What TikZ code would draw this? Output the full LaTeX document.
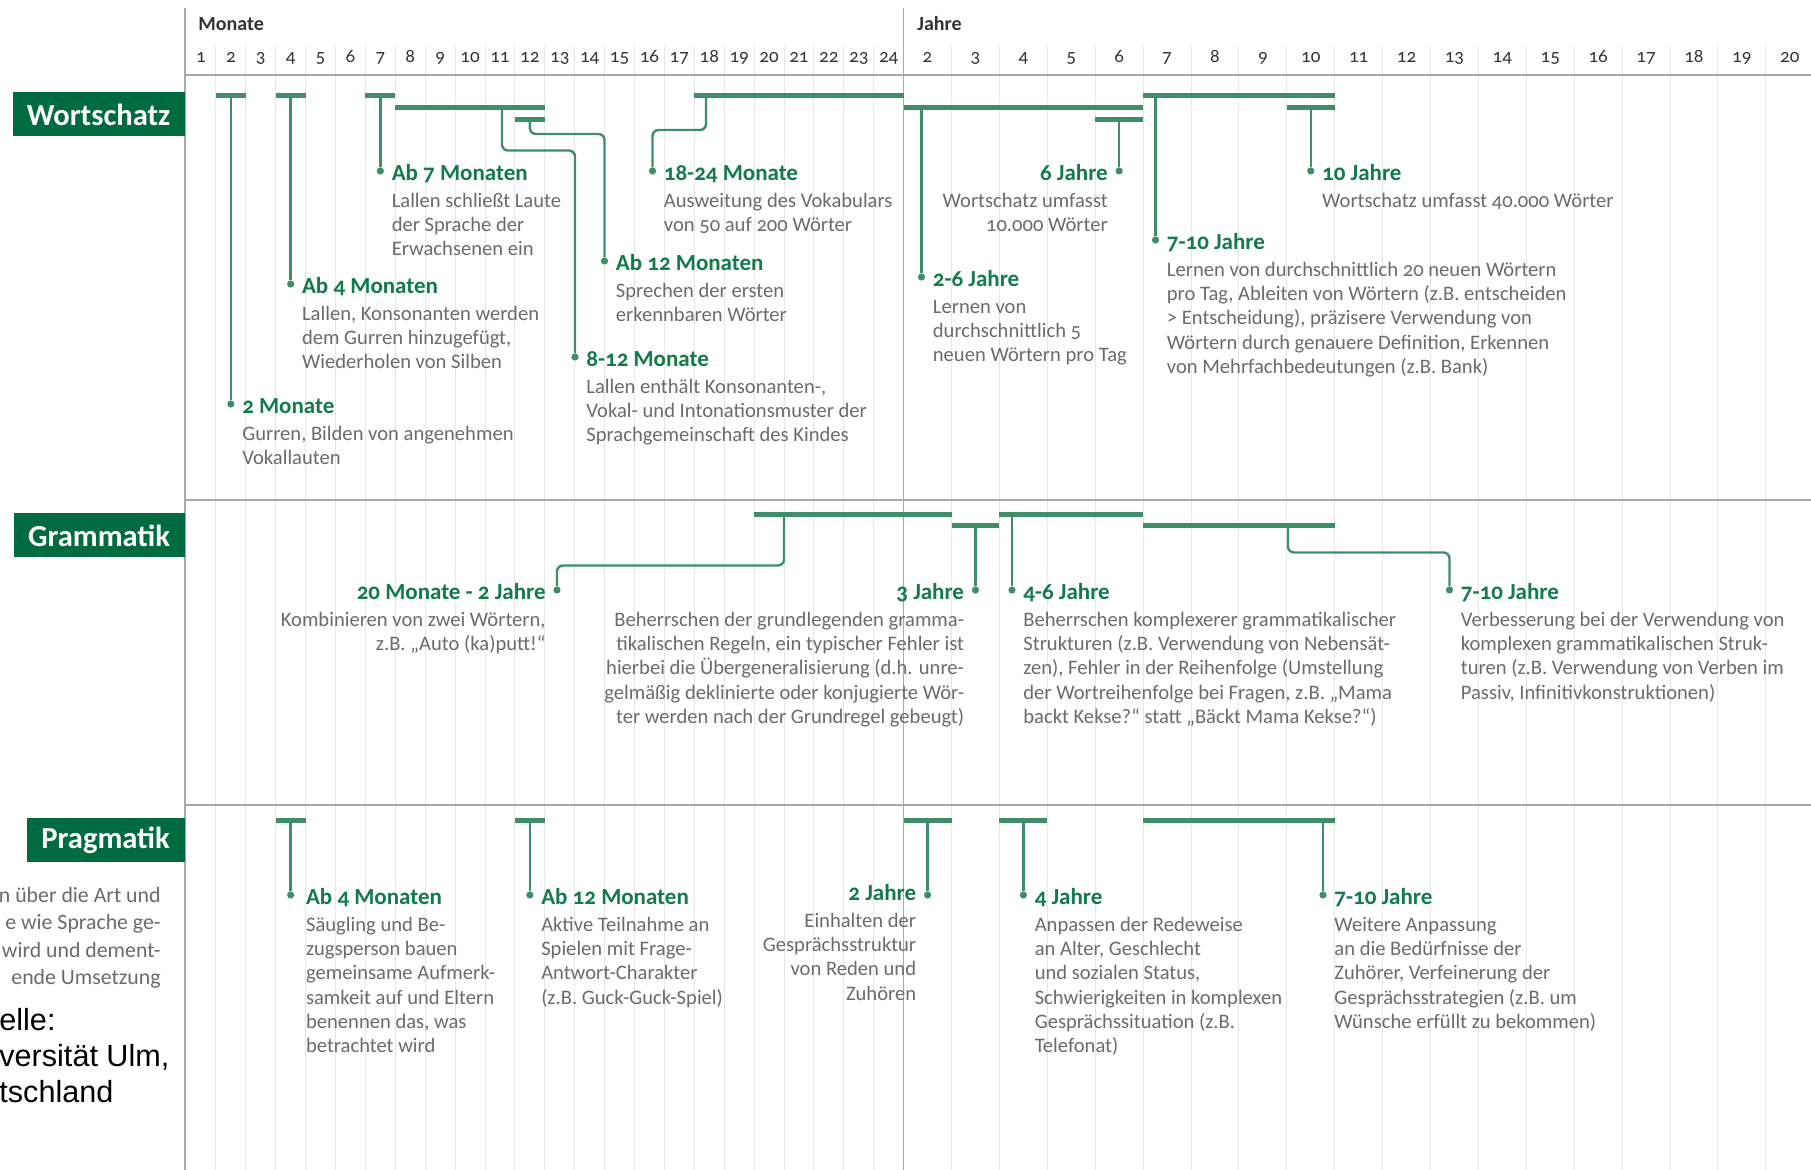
\documentclass[tikz,border=0pt]{standalone}
\usepackage{fontspec}
\setmainfont{Carlito}[Numbers=OldStyle]
\newfontfamily\quellefont{Liberation Sans}
\usepackage{tikz}
\usetikzlibrary{positioning}
\definecolor{boxgreen}{HTML}{006B3F}
\definecolor{titlegreen}{HTML}{127A4B}
\definecolor{linegreen}{HTML}{3F8E69}
\definecolor{bodygray}{HTML}{6B6B6B}
\definecolor{gridgray}{HTML}{E6E6E6}
\definecolor{rulegray}{HTML}{A9A9A9}
\definecolor{numgray}{HTML}{333333}

% column edges: months 0..24, years 1..20
\newcommand{\mpos}[1]{186+29.9*(#1)}
\newcommand{\ypos}[1]{903.6+47.9*(#1-1)}

\tikzset{
  catbox/.style={fill=boxgreen, text=white, anchor=north east,
    font=\fontsize{15.3}{17}\selectfont\bfseries, minimum height=22pt},
  phasebar/.style={linegreen, line width=2.5pt},
  stemline/.style={linegreen, line width=1.2pt, rounded corners=3pt},
  evtdot/.style={circle, fill=linegreen, inner sep=0pt, minimum size=3.6pt},
  evttitle/.style={text=titlegreen, font=\fontsize{11.5}{13}\selectfont\bfseries,
    inner sep=0pt, text height=11.4pt, text depth=2pt},
  evtbody/.style={text=bodygray, font=\fontsize{10.3}{12.15}\selectfont,
    inner sep=0pt, align=left},
  evtbodyr/.style={evtbody, align=right},
  gridline/.style={gridgray, line width=0.5pt},
  ruleline/.style={rulegray, line width=0.8pt},
  numlabel/.style={text=numgray, font=\fontsize{9.5}{11}\selectfont,
    anchor=base, inner sep=0pt},
  headlabel/.style={text=numgray, font=\fontsize{10}{12}\selectfont\bfseries,
    anchor=base west, inner sep=0pt}
}

\begin{document}
\begin{tikzpicture}[x=0.5pt, y=-0.5pt]
  \useasboundingbox (0,0) rectangle (1811,1170);
  \fill[white] (0,0) rectangle (1811,1170);

  % grid and scale
  \foreach \m in {1,...,23}
    \draw[gridline] ({\mpos{\m}},45) -- ({\mpos{\m}},1170);
  \foreach \k in {2,...,19}
    \draw[gridline] ({\ypos{\k}},45) -- ({\ypos{\k}},1170);
  \draw[ruleline] (185,8) -- (185,1170);
  \draw[ruleline] ({\ypos{1}},8) -- ({\ypos{1}},1170);
  \draw[ruleline, line width=1.1pt] (185,75) -- (1811,75);
  \draw[ruleline, line width=1.1pt] (185,500) -- (1811,500);
  \draw[ruleline, line width=1.1pt] (185,805) -- (1811,805);

  \node[headlabel] (monate) at (198,31) {Monate};
  \node[headlabel] (jahre) at (917,31) {Jahre};
  \foreach \m in {1,...,24}
    \node[numlabel] (m\m) at ({\mpos{\m-0.5}},63) {\m};
  \foreach \k in {2,...,20}
    \node[numlabel] (y\k) at ({\ypos{\k-0.5}},63) {\k};

  \node[catbox, minimum width=86pt] (wortschatz) at (185,92) {Wortschatz};
  \node[catbox, minimum width=85.5pt] (grammatik) at (185,513) {Grammatik};
  \node[catbox, minimum width=79pt] (pragmatik) at (185,818) {Pragmatik};

  \node[evtbodyr, font=\fontsize{10.9}{13.7}\selectfont, anchor=north east]
    (pragnote) at (161,883) {\strut n über die Art und\\e wie Sprache ge-\\wird und dement-\\ende Umsetzung};
  \node[align=left, inner sep=0pt, anchor=north west, font=\quellefont\fontsize{15.3}{18}\selectfont]
    (quelle) at (-1,1005) {\strut elle:\\versität Ulm,\\tschland};

  % Wortschatz
  \draw[phasebar] ({\mpos{1}},95.5) -- ({\mpos{2}},95.5);
  \draw[phasebar] ({\mpos{3}},95.5) -- ({\mpos{4}},95.5);
  \draw[phasebar] ({\mpos{6}},95.5) -- ({\mpos{7}},95.5);
  \draw[phasebar] ({\mpos{7}},108) -- ({\mpos{12}},108);
  \draw[phasebar] ({\mpos{11}},119.5) -- ({\mpos{12}},119.5);
  \draw[phasebar] ({\mpos{17}},95.5) -- ({\mpos{24}},95.5);
  \draw[phasebar] ({\ypos{1}},108) -- ({\ypos{6}},108);
  \draw[phasebar] ({\ypos{5}},119.5) -- ({\ypos{6}},119.5);
  \draw[phasebar] ({\ypos{6}},95.5) -- ({\ypos{10}},95.5);
  \draw[phasebar] ({\ypos{9}},108) -- ({\ypos{10}},108);

  \coordinate (w1top) at ({\mpos{1.5}},95.5);
  \node[evtdot] (w1) at ({\mpos{1.5}},404) {};
  \draw[stemline] (w1top) -- (w1);
  \node[evttitle, right=3.5pt of w1] (w1t) {2 Monate};
  \node[evtbody, below=2.5pt of w1t.south west, anchor=north west] (w1b)
    {\strut Gurren, Bilden von angenehmen\\Vokallauten};

  \coordinate (w2top) at ({\mpos{3.5}},95.5);
  \node[evtdot] (w2) at ({\mpos{3.5}},284) {};
  \draw[stemline] (w2top) -- (w2);
  \node[evttitle, right=3.5pt of w2] (w2t) {Ab 4 Monaten};
  \node[evtbody, below=2.5pt of w2t.south west, anchor=north west] (w2b)
    {\strut Lallen, Konsonanten werden\\dem Gurren hinzugefügt,\\Wiederholen von Silben};

  \coordinate (w3top) at ({\mpos{6.5}},95.5);
  \node[evtdot] (w3) at ({\mpos{6.5}},171) {};
  \draw[stemline] (w3top) -- (w3);
  \node[evttitle, right=3.5pt of w3] (w3t) {Ab 7 Monaten};
  \node[evtbody, below=2.5pt of w3t.south west, anchor=north west] (w3b)
    {\strut Lallen schließt Laute\\der Sprache der\\Erwachsenen ein};

  \coordinate (w4top) at (502,108);
  \coordinate (w4knee) at (575,150.5);
  \node[evtdot] (w4) at (575,357) {};
  \draw[stemline] (w4top) |- (w4knee) -- (w4);
  \node[evttitle, right=3.5pt of w4] (w4t) {8-12 Monate};
  \node[evtbody, below=2.5pt of w4t.south west, anchor=north west] (w4b)
    {\strut Lallen enthält Konsonanten-,\\Vokal- und Intonationsmuster der\\Sprachgemeinschaft des Kindes};

  \coordinate (w5top) at ({\mpos{11.5}},119.5);
  \coordinate (w5knee) at (604.5,134);
  \node[evtdot] (w5) at (604.5,261) {};
  \draw[stemline] (w5top) |- (w5knee) -- (w5);
  \node[evttitle, right=3.5pt of w5] (w5t) {Ab 12 Monaten};
  \node[evtbody, below=2.5pt of w5t.south west, anchor=north west] (w5b)
    {\strut Sprechen der ersten\\erkennbaren Wörter};

  \coordinate (w6top) at (706,95.5);
  \coordinate (w6knee) at (652.5,130);
  \node[evtdot] (w6) at (652.5,171) {};
  \draw[stemline] (w6top) |- (w6knee) -- (w6);
  \node[evttitle, right=3.5pt of w6] (w6t) {18-24 Monate};
  \node[evtbody, below=2.5pt of w6t.south west, anchor=north west] (w6b)
    {\strut Ausweitung des Vokabulars\\von 50 auf 200 Wörter};

  \coordinate (w7top) at (921.5,108);
  \node[evtdot] (w7) at (921.5,277) {};
  \draw[stemline] (w7top) -- (w7);
  \node[evttitle, right=3.5pt of w7] (w7t) {2-6 Jahre};
  \node[evtbody, below=2.5pt of w7t.south west, anchor=north west] (w7b)
    {\strut Lernen von\\durchschnittlich 5\\neuen Wörtern pro Tag};

  \coordinate (w8top) at ({\ypos{5.5}},119.5);
  \node[evtdot] (w8) at ({\ypos{5.5}},171) {};
  \draw[stemline] (w8top) -- (w8);
  \node[evttitle, left=3.5pt of w8] (w8t) {6 Jahre};
  \node[evtbodyr, below=2.5pt of w8t.south east, anchor=north east] (w8b)
    {\strut Wortschatz umfasst\\10.000 Wörter};

  \coordinate (w9top) at (1155.5,95.5);
  \node[evtdot] (w9) at (1155.5,240) {};
  \draw[stemline] (w9top) -- (w9);
  \node[evttitle, right=3.5pt of w9] (w9t) {7-10 Jahre};
  \node[evtbody, below=2.5pt of w9t.south west, anchor=north west] (w9b)
    {\strut Lernen von durchschnittlich 20 neuen Wörtern\\pro Tag, Ableiten von Wörtern (z.B. entscheiden\\\textgreater{} Entscheidung), präzisere Verwendung von\\Wörtern durch genauere Definition, Erkennen\\von Mehrfachbedeutungen (z.B. Bank)};

  \coordinate (w10top) at ({\ypos{9.5}},108);
  \node[evtdot] (w10) at ({\ypos{9.5}},171) {};
  \draw[stemline] (w10top) -- (w10);
  \node[evttitle, right=3.5pt of w10] (w10t) {10 Jahre};
  \node[evtbody, below=2.5pt of w10t.south west, anchor=north west] (w10b)
    {\strut Wortschatz umfasst 40.000 Wörter};

  % Grammatik
  \draw[phasebar] ({\mpos{19}},515) -- ({\ypos{2}},515);
  \draw[phasebar] ({\ypos{2}},526) -- ({\ypos{3}},526);
  \draw[phasebar] ({\ypos{3}},515) -- ({\ypos{6}},515);
  \draw[phasebar] ({\ypos{6}},526) -- ({\ypos{10}},526);

  \coordinate (g1top) at (784,515);
  \coordinate (g1knee) at (557,565.5);
  \node[evtdot] (g1) at (557,590) {};
  \draw[stemline] (g1top) |- (g1knee) -- (g1);
  \node[evttitle, left=3.5pt of g1] (g1t) {20 Monate - 2 Jahre};
  \node[evtbodyr, below=2.5pt of g1t.south east, anchor=north east] (g1b)
    {\strut Kombinieren von zwei Wörtern,\\z.B. „Auto (ka)putt!“};

  \coordinate (g2top) at ({\ypos{2.5}},526);
  \node[evtdot] (g2) at ({\ypos{2.5}},590) {};
  \draw[stemline] (g2top) -- (g2);
  \node[evttitle, left=3.5pt of g2] (g2t) {3 Jahre};
  \node[evtbodyr, below=2.5pt of g2t.south east, anchor=north east] (g2b)
    {\strut Beherrschen der grundlegenden gramma-\\tikalischen Regeln, ein typischer Fehler ist\\hierbei die Übergeneralisierung (d.h. unre-\\gelmäßig deklinierte oder konjugierte Wör-\\ter werden nach der Grundregel gebeugt)};

  \coordinate (g3top) at (1012,515);
  \node[evtdot] (g3) at (1012,590) {};
  \draw[stemline] (g3top) -- (g3);
  \node[evttitle, right=3.5pt of g3] (g3t) {4-6 Jahre};
  \node[evtbody, below=2.5pt of g3t.south west, anchor=north west] (g3b)
    {\strut Beherrschen komplexerer grammatikalischer\\Strukturen (z.B. Verwendung von Nebensät-\\zen), Fehler in der Reihenfolge (Umstellung\\der Wortreihenfolge bei Fragen, z.B. „Mama\\backt Kekse?“ statt „Bäckt Mama Kekse?“)};

  \coordinate (g4top) at (1288,526);
  \coordinate (g4knee) at (1449.5,552.5);
  \node[evtdot] (g4) at (1449.5,590) {};
  \draw[stemline] (g4top) |- (g4knee) -- (g4);
  \node[evttitle, right=3.5pt of g4] (g4t) {7-10 Jahre};
  \node[evtbody, below=2.5pt of g4t.south west, anchor=north west] (g4b)
    {\strut Verbesserung bei der Verwendung von\\komplexen grammatikalischen Struk-\\turen (z.B. Verwendung von Verben im\\Passiv, Infinitivkonstruktionen)};

  % Pragmatik
  \draw[phasebar] ({\mpos{3}},820.5) -- ({\mpos{4}},820.5);
  \draw[phasebar] ({\mpos{11}},820.5) -- ({\mpos{12}},820.5);
  \draw[phasebar] ({\ypos{1}},820.5) -- ({\ypos{2}},820.5);
  \draw[phasebar] ({\ypos{3}},820.5) -- ({\ypos{4}},820.5);
  \draw[phasebar] ({\ypos{6}},821) -- ({\ypos{10}},821);

  \coordinate (p1top) at ({\mpos{3.5}},820.5);
  \node[evtdot] (p1) at ({\mpos{3.5}},895) {};
  \draw[stemline] (p1top) -- (p1);
  \node[evttitle, right=5.5pt of p1] (p1t) {Ab 4 Monaten};
  \node[evtbody, below=2.5pt of p1t.south west, anchor=north west] (p1b)
    {\strut Säugling und Be-\\zugsperson bauen\\gemeinsame Aufmerk-\\samkeit auf und Eltern\\benennen das, was\\betrachtet wird};

  \coordinate (p2top) at ({\mpos{11.5}},820.5);
  \node[evtdot] (p2) at ({\mpos{11.5}},895) {};
  \draw[stemline] (p2top) -- (p2);
  \node[evttitle, right=3.5pt of p2] (p2t) {Ab 12 Monaten};
  \node[evtbody, below=2.5pt of p2t.south west, anchor=north west] (p2b)
    {\strut Aktive Teilnahme an\\Spielen mit Frage-\\Antwort-Charakter\\(z.B. Guck-Guck-Spiel)};

  \coordinate (p3top) at ({\ypos{1.5}},820.5);
  \node[evtdot] (p3) at ({\ypos{1.5}},895) {};
  \draw[stemline] (p3top) -- (p3);
  \node[evttitle, left=3.5pt of p3, yshift=2pt] (p3t) {2 Jahre};
  \node[evtbodyr, below=2.5pt of p3t.south east, anchor=north east] (p3b)
    {\strut Einhalten der\\Gesprächsstruktur\\von Reden und\\Zuhören};

  \coordinate (p4top) at ({\ypos{3.5}},820.5);
  \node[evtdot] (p4) at ({\ypos{3.5}},895) {};
  \draw[stemline] (p4top) -- (p4);
  \node[evttitle, right=3.5pt of p4] (p4t) {4 Jahre};
  \node[evtbody, below=2.5pt of p4t.south west, anchor=north west] (p4b)
    {\strut Anpassen der Redeweise\\an Alter, Geschlecht\\und sozialen Status,\\Schwierigkeiten in komplexen\\Gesprächssituation (z.B.\\Telefonat)};

  \coordinate (p5top) at (1323,821);
  \node[evtdot] (p5) at (1323,895) {};
  \draw[stemline] (p5top) -- (p5);
  \node[evttitle, right=3.5pt of p5] (p5t) {7-10 Jahre};
  \node[evtbody, below=2.5pt of p5t.south west, anchor=north west] (p5b)
    {\strut Weitere Anpassung\\an die Bedürfnisse der\\Zuhörer, Verfeinerung der\\Gesprächsstrategien (z.B. um\\Wünsche erfüllt zu bekommen)};
\end{tikzpicture}
\end{document}
